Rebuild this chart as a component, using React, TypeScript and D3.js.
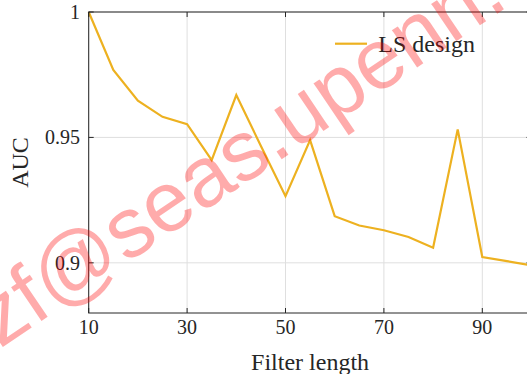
import * as d3 from 'd3';

const filterLengths = [10, 15, 20, 25, 30, 35, 40, 45, 50, 55, 60, 65, 70, 75, 80, 85, 90, 95, 100];
const aucValues = [
  1.0, 0.9769, 0.9646, 0.9582, 0.9553, 0.9409, 0.9669, 0.9466, 0.9266, 0.9489,
  0.9186, 0.9149, 0.913, 0.9103, 0.906, 0.9532, 0.9023, 0.9007, 0.899,
];
const xTicks = [10, 30, 50, 70, 90];
const yTicks = [0.9, 0.95, 1];
const seriesName = 'LS design';

const W = 527;
const H = 374;
const serif = '"Liberation Serif", "Times New Roman", serif';
const axisColor = '#262626';
const gridColor = '#dfdfdf';
const lineColor = '#EDB120';

export default function App() {
  const margin = { left: 88.7, top: 12, right: 531.5, bottom: 313 };
  const x = d3.scaleLinear().domain([10, 100]).range([margin.left, margin.right]);
  const y = d3.scaleLinear().domain([0.88, 1]).range([margin.bottom, margin.top]);

  const line = d3
    .line<number>()
    .x((_, i) => x(filterLengths[i]))
    .y((d) => y(d));

  const tickLen = 5;

  return (
    <svg
      width={W}
      height={H}
      style={{ position: 'absolute', left: 0, top: 0, background: '#fff', overflow: 'hidden' }}
    >
      <rect x={0} y={0} width={W} height={H} fill="#fff" />

      {/* grid */}
      {xTicks.map((t) => (
        <line key={'gx' + t} x1={x(t)} x2={x(t)} y1={margin.top} y2={margin.bottom} stroke={gridColor} strokeWidth={1} />
      ))}
      {yTicks.map((t) => (
        <line key={'gy' + t} x1={margin.left} x2={margin.right} y1={y(t)} y2={y(t)} stroke={gridColor} strokeWidth={1} />
      ))}

      {/* data line */}
      <path d={line(aucValues) ?? ''} fill="none" stroke={lineColor} strokeWidth={2.2} strokeLinejoin="miter" />

      {/* box */}
      <rect
        x={margin.left}
        y={margin.top}
        width={margin.right - margin.left}
        height={margin.bottom - margin.top}
        fill="none"
        stroke={axisColor}
        strokeWidth={1}
      />

      {/* ticks */}
      {xTicks.map((t) => (
        <g key={'tx' + t}>
          <line x1={x(t)} x2={x(t)} y1={margin.bottom} y2={margin.bottom - tickLen} stroke={axisColor} />
          <line x1={x(t)} x2={x(t)} y1={margin.top} y2={margin.top + tickLen} stroke={axisColor} />
          <text x={x(t)} y={334} textAnchor="middle" fontFamily={serif} fontSize={20} fill="#262626">
            {t}
          </text>
        </g>
      ))}
      {yTicks.map((t) => (
        <g key={'ty' + t}>
          <line x1={margin.left} x2={margin.left + tickLen} y1={y(t)} y2={y(t)} stroke={axisColor} />
          <line x1={margin.right} x2={margin.right - tickLen} y1={y(t)} y2={y(t)} stroke={axisColor} />
          <text x={80} y={y(t) + 6.8} textAnchor="end" fontFamily={serif} fontSize={20} fill="#262626">
            {t}
          </text>
        </g>
      ))}

      {/* axis titles */}
      <text x={(margin.left + margin.right) / 2} y={370} textAnchor="middle" fontFamily={serif} fontSize={24} fill="#262626">
        Filter length
      </text>
      <text
        transform={`translate(28,${(margin.top + margin.bottom) / 2}) rotate(-90)`}
        textAnchor="middle"
        fontFamily={serif}
        fontSize={24}
        fill="#262626"
      >
        AUC
      </text>

      {/* legend */}
      <line x1={335} x2={367} y1={43.7} y2={43.7} stroke={lineColor} strokeWidth={2.2} />
      <text x={378.3} y={51.5} fontFamily={serif} fontSize={24} fill="#262626">
        {seriesName}
      </text>

      {/* watermark */}
      <text
        transform="translate(0,349) rotate(-34)"
        fontFamily='"Liberation Sans", Arial, sans-serif'
        fontSize={85}
        fill="#ff0000"
        fillOpacity={0.33}
      >
        zf@seas.upenn.edu
      </text>
    </svg>
  );
}
